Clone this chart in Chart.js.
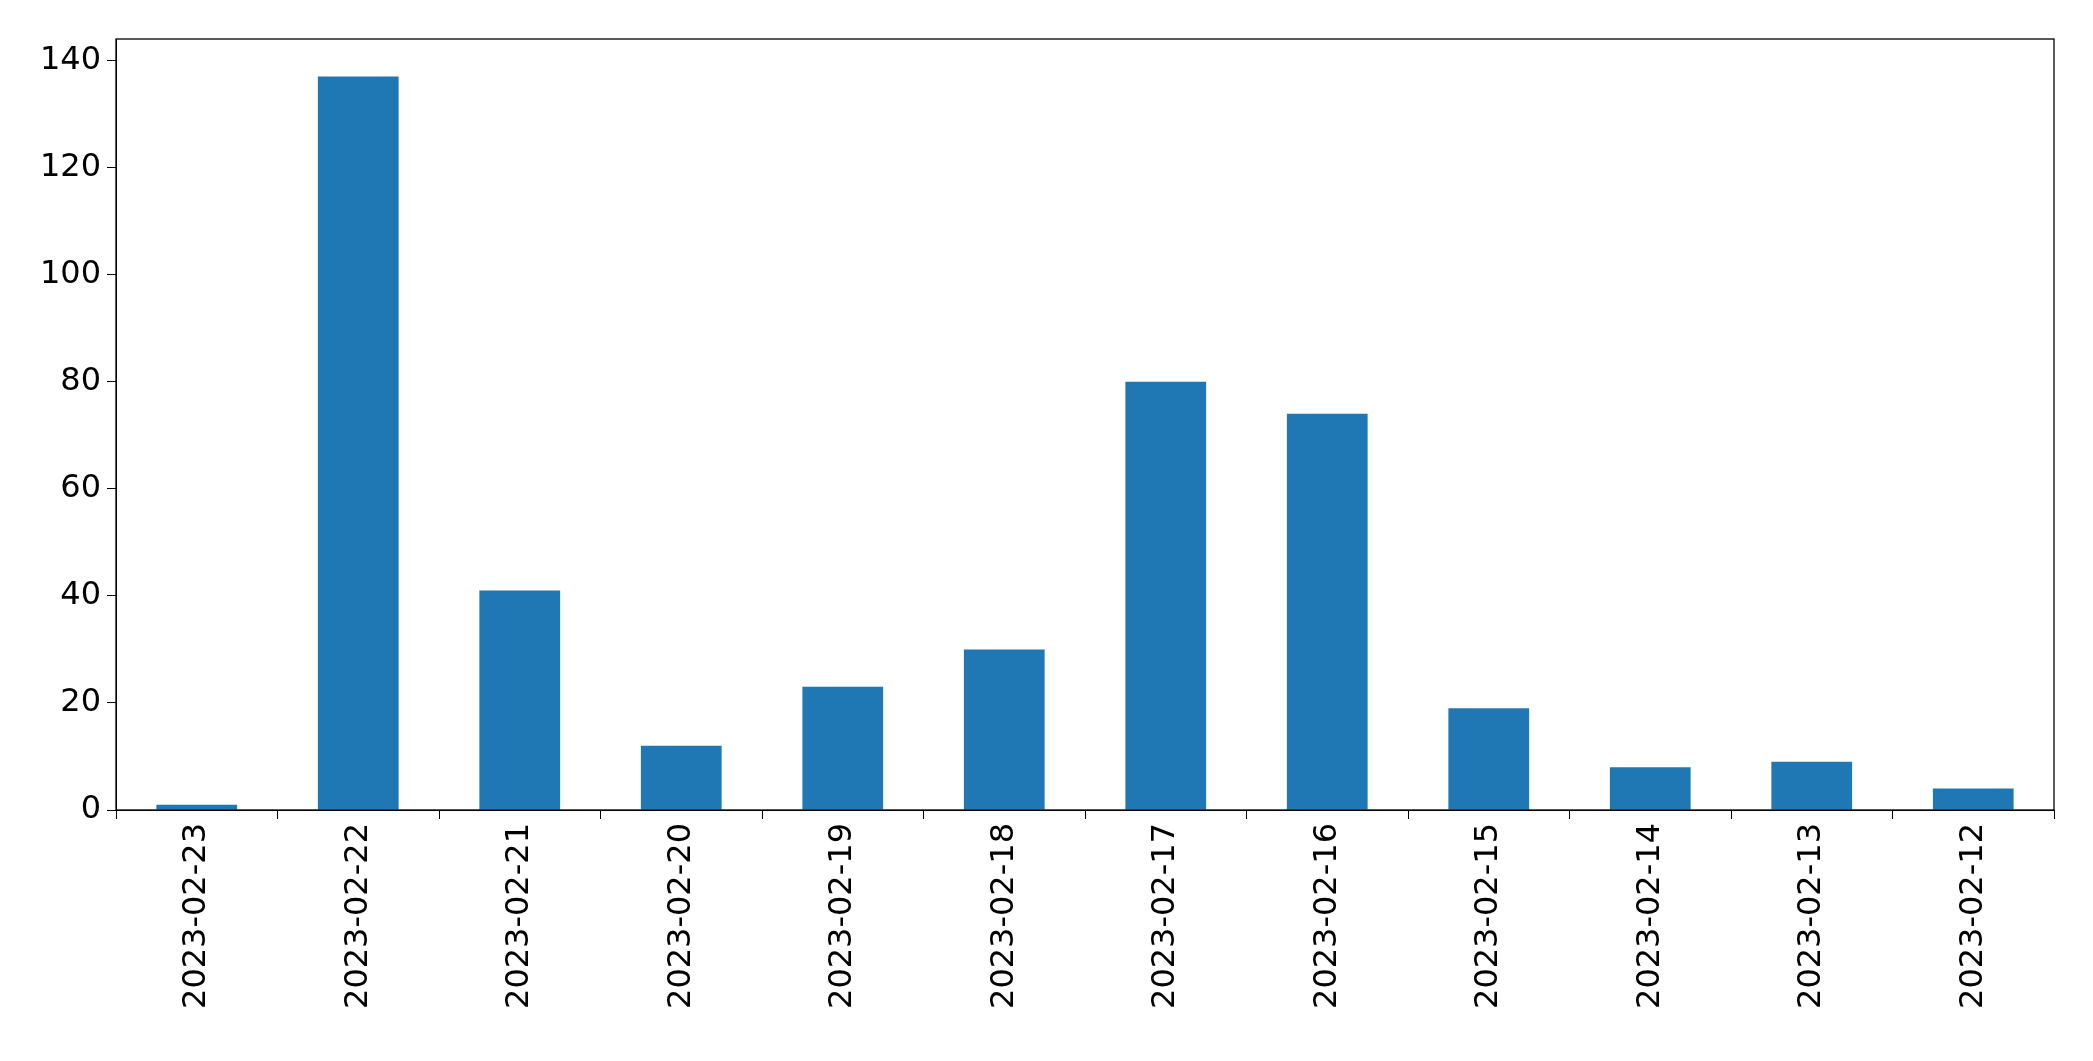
<!DOCTYPE html>
<html><head><meta charset="utf-8">
<script src="https://cdn.jsdelivr.net/npm/chart.js@4"></script>
<style>html,body{margin:0;padding:0;background:#fff}</style>
</head><body>
<div style="width:2093px;height:1061px"><canvas id="c" width="2093" height="1061"></canvas></div>
<script>
const categories = ["2023-02-23","2023-02-22","2023-02-21","2023-02-20","2023-02-19","2023-02-18","2023-02-17","2023-02-16","2023-02-15","2023-02-14","2023-02-13","2023-02-12"];
const values = [1,137,41,12,23,30,80,74,19,8,9,4];
const yTicks = [0,20,40,60,80,100,120,140];

const boxPlugin = {id:'box', afterDraw(ch){const a=ch.chartArea,c=ch.ctx;c.save();c.strokeStyle='#000';c.lineWidth=1.3;c.strokeRect(a.left,a.top,a.right-a.left,a.bottom-a.top);c.restore();}};
new Chart(document.getElementById('c'),{
  type:'bar',
  data:{labels:categories,datasets:[{data:values,backgroundColor:'#1f77b4',categoryPercentage:1,barPercentage:0.5}]},
  options:{responsive:false,animation:false,
    layout:{padding:{top:39,right:39,left:0,bottom:0}},
    plugins:{legend:{display:false},tooltip:{enabled:false}},
    scales:{
      x:{offset:true,grid:{display:true,drawOnChartArea:false,tickLength:9,color:'#000'},border:{display:true,color:'#000'},
         ticks:{color:'#000',font:{family:'DejaVu Sans',size:32},maxRotation:90,minRotation:90,padding:4},
         afterFit(s){s.height=251;}},
      y:{min:0,max:144,afterBuildTicks(s){s.ticks=yTicks.map(v=>({value:v}));},
         grid:{display:true,drawOnChartArea:false,tickLength:9,color:'#000'},border:{display:true,color:'#000'},
         ticks:{color:'#000',font:{family:'DejaVu Sans',size:32},padding:6},
         afterFit(s){s.width=116;}}
    }},
  plugins:[boxPlugin]
});
</script></body></html>
